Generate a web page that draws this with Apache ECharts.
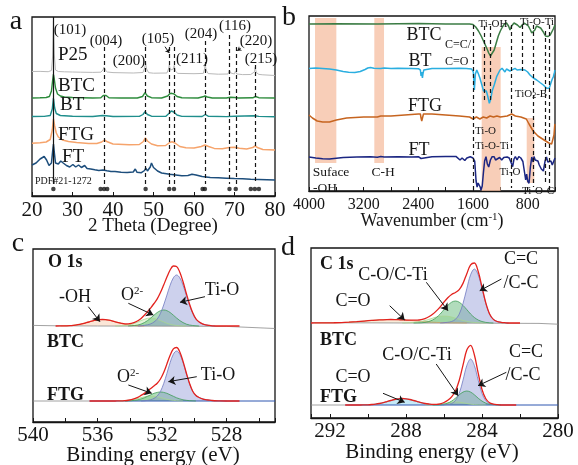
<!DOCTYPE html>
<html><head><meta charset="utf-8">
<script src="https://cdn.jsdelivr.net/npm/echarts@6/dist/echarts.min.js"></script>
<style>html,body{margin:0;padding:0;background:#fff}#c{width:578px;height:465px}</style>
</head><body><div id="c"></div>
<script>
// ---------------- Panel a : XRD (2θ in degree, offset intensity) ----------------
const xrdP25 = [[20,124.5],[22,124.6],[24,124.3],[24.8,125.5],[25.1,140],[25.3,175],[25.5,142],[25.8,126],[26.5,124.5],[28,124.2],[30,124],[32,123.8],[35,123.6],[37,123.8],[37.5,126],[37.8,129],[38.1,126],[38.6,124],[40,123.4],[45,123],[47.4,123.5],[47.8,128],[48.05,132.7],[48.3,127],[48.8,123.3],[50,122.8],[53.3,123],[53.7,127],[53.9,131],[54.2,126],[54.6,124],[54.9,127],[55.1,130.5],[55.4,125],[56,122.6],[60,122.3],[62.3,122.6],[62.6,127],[62.75,132],[63,126],[63.5,122.4],[66,121.8],[68.4,122],[68.7,126],[68.8,127.7],[69.1,123],[70,122],[70.2,124.5],[70.35,126],[70.6,122],[72,121.4],[74,121.5],[74.9,124],[75.1,128.7],[75.4,123.5],[76,121.6],[77,121.2],[80,120.5]];
const xrdBTC = [[20,98],[22,98.2],[23.5,98.5],[24.3,99.5],[24.8,105],[25.1,116],[25.3,122],[25.5,117],[25.8,108],[26.3,102],[27,100],[28,99],[30,98.5],[35,98],[37,98.3],[37.6,100.5],[37.9,101],[38.3,100.5],[39,98.3],[42,98],[46,98],[47.3,99.5],[47.9,103.3],[48.5,100],[49.5,98.3],[52,98],[53.5,100],[54,102.3],[54.5,102.7],[55.1,102],[55.8,99.5],[57,98.2],[61,98],[62.2,99.2],[62.7,100],[63.3,99],[64.5,98],[68,98],[69,98.8],[70,98.5],[71,98],[74.5,98.2],[75.2,99.5],[76,98.3],[80,98]];
const xrdBT = [[20,79.5],[23,79.6],[24.5,80.5],[25,87],[25.3,98],[25.6,88],[26,82.5],[27,80.5],[30,79.8],[35,79.5],[37.4,80.5],[37.8,81.5],[38.3,80.3],[40,79.5],[46.5,79.6],[47.4,81.5],[47.9,84.3],[48.5,81.5],[49.5,79.8],[53,79.6],[53.8,82.5],[54.4,85],[55,84],[55.8,81],[57,79.6],[62,79.5],[62.8,81.5],[63.5,79.8],[68,79.4],[70,79.8],[75,80.3],[76,79.6],[80,79.3]];
const xrdFTG = [[20,52.8],[22,53.2],[23.5,54],[24.5,56.5],[25,66],[25.3,77],[25.6,70],[26,63],[26.5,59],[27.5,56],[29,54.5],[31,53.5],[34,52.5],[36,52.5],[37.2,54],[37.9,56],[38.6,54.2],[40,52],[44,51.3],[46.5,51.5],[47.5,54.5],[48,58],[48.5,55],[49.5,52],[51,50.3],[53,50.5],[54,53.5],[54.6,54.3],[55.3,53],[56.5,49.5],[58,48.3],[60,48],[61.8,49.5],[62.7,51],[63.6,49.5],[65,47.6],[67,47.2],[68.7,48.4],[70,48.8],[71.2,47.8],[73,47],[74.5,48.5],[75.1,50],[75.8,48.2],[77,46.5],[80,46]];
const xrdFT = [[20,31],[21,33],[22,37],[23,39.5],[23.6,36],[24.2,30.5],[24.8,33],[25.1,45],[25.3,52],[25.5,44],[25.8,33],[26.5,32],[27.1,35],[27.7,33],[28.5,30.5],[29.3,29],[30.1,31.5],[30.8,29],[31.5,31],[32.2,28.5],[33,30.5],[33.6,27.5],[34.5,27],[35.5,26.2],[36.5,25.5],[37.5,26],[38.5,25.2],[39.5,24.5],[40.5,24.6],[42,23.8],[43.5,23.5],[45,24],[45.5,27],[45.9,23.8],[47,23.3],[47.8,25.5],[48.1,28],[48.5,25],[49.2,29],[49.5,33],[50,28.5],[51,25],[52,23],[54,21.8],[55.5,21],[57,20.2],[58.5,20.5],[59.5,21.8],[60.5,21],[62,19.5],[64,18.6],[66,18.2],[68,17.8],[70,17.4],[72,17.2],[74,16.8],[76,16.6],[78,16.3],[80,16]];
const pdfPeaks = [25.28,36.95,37.80,38.57,48.05,53.89,55.06,62.12,62.69,68.76,70.31,74.03,75.03,76.02];
const hklPeaks = [37.8,48.05,53.89,55.06,62.69,68.76,70.31,75.03];
const xrdTicks = [20,30,40,50,60,70,80];

// ---------------- Panel b : FTIR (wavenumber cm-1, offset transmittance) ----------------
const ftirBTC = [[4000,167],[3600,167.3],[3000,167],[2400,167.4],[2000,167],[1650,167],[1600,166.5],[1560,164],[1520,160],[1480,155],[1440,149],[1400,143],[1370,138],[1345,135],[1320,136],[1290,141],[1260,148],[1230,155],[1200,160],[1170,164],[1140,167],[1110,168],[1080,165],[1058,161],[1035,165],[1000,168],[985,168],[950,166],[912,163.5],[880,166],[850,168],[824,168],[790,165],[760,161],[740,158],[717,157.5],[695,161],[670,165],[644,166],[610,163],[571,159],[540,155],[522,154],[500,154.5],[470,156],[448,158],[425,162],[400,166]];
const ftirBT = [[4000,122.5],[3950,122.8],[3900,123],[3800,122.5],[3700,122],[3600,121],[3500,119.5],[3420,118.8],[3330,118.6],[3250,119.5],[3180,121.5],[3140,123],[3100,123.5],[3050,122.8],[2950,122.5],[2900,123],[2800,122.6],[2700,122.8],[2500,122.5],[2400,122.3],[2370,121],[2360,115],[2350,119],[2340,113],[2330,118],[2320,121],[2300,122.3],[2200,122.5],[2000,122.6],[1800,122.7],[1700,122.5],[1620,122],[1595,119],[1580,101],[1565,117],[1545,121],[1520,117],[1498,112.7],[1470,106],[1445,100],[1425,99.3],[1405,100],[1385,95],[1361,87.7],[1340,92],[1320,100],[1290,106],[1254,114.3],[1205,121],[1175,122.7],[1150,121],[1132,119],[1110,122],[1085,121.5],[1060,120],[1034,121.5],[985,122.7],[955,121],[930,119.5],[900,121.5],[873,122.7],[840,121],[800,119],[766,116],[717,113],[668,111],[620,108.5],[571,106],[522,102.7],[498,102],[483,103],[460,108],[440,112],[424,114.3],[410,118],[400,121]];
const ftirFTG = [[4000,76],[3950,73],[3880,70],[3800,69],[3700,69],[3600,71],[3450,73],[3200,74],[3000,74],[2950,75],[2800,75],[2600,76],[2400,77],[2370,77],[2360,73],[2350,70],[2340,72],[2325,77],[2200,77],[2000,76],[1800,75],[1650,74],[1600,72],[1550,74],[1500,72],[1450,74],[1400,73],[1350,75],[1300,74],[1250,75],[1200,74],[1100,75],[1034,77],[980,75],[900,74],[820,72],[780,67],[720,60],[650,55],[560,51],[490,48],[449,47],[430,49],[415,56],[405,65],[400,67]];
const ftirFT = [[4000,34],[3950,33.5],[3900,33],[3800,32.2],[3700,32],[3600,32.8],[3500,33.6],[3300,34],[3100,34.2],[3000,33.8],[2950,34.5],[2900,34],[2700,34.2],[2500,34],[2400,34.3],[2360,32.5],[2340,34],[2200,34.2],[2000,34.5],[1850,34.6],[1790,31],[1760,33],[1720,30.5],[1690,33],[1640,34.3],[1600,33],[1575,30],[1555,10],[1540,4],[1525,8],[1508,9],[1495,4],[1483,1],[1465,5],[1448,18],[1430,30],[1410,34.3],[1390,27],[1370,24],[1345,31],[1320,34.3],[1290,34.3],[1270,31],[1245,32],[1210,33.5],[1180,31],[1150,33.5],[1100,34],[1070,33],[1040,28],[1020,24.3],[1000,32],[980,34.5],[955,31],[930,34.5],[900,33],[870,29.5],[840,16],[829,11],[815,17],[800,10],[780,7.7],[760,24],[740,34],[720,29],[707,34.5],[690,31],[670,33],[650,30],[630,26],[600,22],[570,20],[545,30],[525,34],[505,29],[480,27],[460,30],[440,26],[420,28],[400,33]];
const ftirBands = [[3912,3600],[3044,2902],[1473,1195],[814,703]];
const ftirGuides = [1595,1440,1345,1034,873,717,546,483];

// ---------------- Panel c : O 1s XPS (binding energy eV, intensity above background) ----------------
const o1sBTC_OH = [[538.3,0],[538.1,0.1],[537.9,0.2],[537.7,0.4],[537.5,0.7],[537.3,1.1],[537.1,1.7],[536.9,2.4],[536.7,3.3],[536.5,4.2],[536.3,5.1],[536.1,5.8],[535.9,6.3],[535.7,6.5],[535.5,6.3],[535.3,5.8],[535.1,5.1],[534.9,4.2],[534.7,3.3],[534.5,2.4],[534.3,1.7],[534.1,1.1],[533.9,0.7],[533.7,0.4],[533.5,0.2],[533.3,0.1],[533.1,0]];
const o1sBTC_LG = [[534.9,0],[534.7,0.1],[534.5,0.2],[534.3,0.5],[534.1,1],[533.9,1.7],[533.7,2.7],[533.5,4],[533.3,5.4],[533.1,6.7],[532.9,7.7],[532.7,8],[532.5,7.7],[532.3,6.7],[532.1,5.4],[531.9,4],[531.7,2.7],[531.5,1.7],[531.3,1],[531.1,0.5],[530.9,0.2],[530.7,0.1],[530.5,0]];
const o1sBTC_O2 = [[534.1,0],[533.9,0.2],[533.7,0.5],[533.5,1],[533.3,1.9],[533.1,3.4],[532.9,5.4],[532.7,8],[532.5,10.8],[532.3,13.5],[532.1,15.3],[531.9,16],[531.7,15.3],[531.5,13.5],[531.3,10.8],[531.1,8],[530.9,5.4],[530.7,3.4],[530.5,1.9],[530.3,1],[530.1,0.5],[529.9,0.2],[529.7,0]];
const o1sBTC_TiO = [[533.5,0],[533.3,0.2],[533.1,0.6],[532.9,1.2],[532.7,2.2],[532.5,4],[532.3,6.9],[532.1,12.7],[531.9,21],[531.7,30.9],[531.5,40.8],[531.3,48.2],[531.1,51],[530.9,48.2],[530.7,40.8],[530.5,30.9],[530.3,21],[530.1,12.7],[529.9,6.9],[529.7,4],[529.5,2.2],[529.3,1.2],[529.1,0.6],[528.9,0.2],[528.7,0]];
const o1sBTC_env = [[538.6,0],[538.1,0.1],[537.9,0.2],[537.7,0.4],[537.5,0.7],[537.3,1.1],[537.1,1.7],[536.9,2.4],[536.7,3.3],[536.5,4.2],[536.3,5.1],[536.1,5.8],[535.9,6.3],[535.7,6.5],[535.5,6.3],[535.3,5.8],[535.1,5.1],[534.9,4.2],[534.7,3.4],[534.5,2.6],[534.3,2.2],[534.1,2.2],[533.9,2.6],[533.7,3.6],[533.5,5.2],[533.3,7.6],[533.1,10.7],[532.9,14.3],[532.7,18.2],[532.5,22.5],[532.3,27.1],[532.1,33.4],[531.9,41],[531.7,48.9],[531.5,56],[531.3,60],[531.1,59.5],[530.9,53.8],[530.7,44.3],[530.5,32.8],[530.3,22],[530.1,13.2],[529.9,7.1],[529.7,4],[529.5,2.2],[529.3,1.2],[529.1,0.6],[528.9,0.2],[528.4,0],[527.2,0]];
const o1sBTC_raw = [[540,0.6],[538.5,0.2],[536,0],[528,-0.4],[525,-2.5]];
const o1sFTG_LG = [[534.7,0],[534.5,0.1],[534.3,0.3],[534.1,0.6],[533.9,1.1],[533.7,1.7],[533.5,2.5],[533.3,3.4],[533.1,4.2],[532.9,4.8],[532.7,5],[532.5,4.8],[532.3,4.2],[532.1,3.4],[531.9,2.5],[531.7,1.7],[531.5,1.1],[531.3,0.6],[531.1,0.3],[530.9,0.1],[530.7,0]];
const o1sFTG_O2 = [[534.3,0],[534.1,0.15],[533.9,0.3],[533.7,0.7],[533.5,1.2],[533.3,2.1],[533.1,3.2],[532.9,4.7],[532.7,6.2],[532.5,7.7],[532.3,8.6],[532.1,9],[531.9,8.6],[531.7,7.7],[531.5,6.2],[531.3,4.7],[531.1,3.2],[530.9,2.1],[530.7,1.2],[530.5,0.7],[530.3,0.3],[530.1,0.15],[529.9,0]];
const o1sFTG_TiO = [[533.3,0],[533.1,0.2],[532.9,0.6],[532.7,1.3],[532.5,2.6],[532.3,5],[532.1,9.6],[531.9,17.4],[531.7,27.6],[531.5,38.4],[531.3,46.8],[531.1,50],[530.9,46.8],[530.7,38.4],[530.5,27.6],[530.3,17.4],[530.1,9.6],[529.9,5.5],[529.7,3.5],[529.5,2.2],[529.3,1.4],[529.1,0.9],[528.9,0.5],[528.5,0.2],[528,0]];
const o1sFTG_env = [[536.5,0],[534.9,0],[534.7,0.1],[534.5,0.1],[534.3,0.35],[534.1,0.75],[533.9,1.4],[533.7,2.4],[533.5,3.7],[533.3,5.6],[533.1,7.6],[532.9,10.1],[532.7,12.5],[532.5,15.1],[532.3,17.8],[532.1,22],[531.9,28.5],[531.7,37],[531.5,45.7],[531.3,52.1],[531.1,53.5],[530.9,49],[530.7,39.6],[530.5,28.3],[530.3,17.7],[530.1,9.75],[529.9,5.5],[529.7,3.5],[529.5,2.2],[529.3,1.4],[529.1,0.9],[528.9,0.5],[528.5,0.2],[528,0],[527.2,0]];
const o1sFTG_raw = [[540,0],[536.5,0]];
const o1sFTG_bg = [[536.5,0],[525,0]];

// ---------------- Panel d : C 1s XPS ----------------
const c1sBTC_CO = [[292.8,0],[292.4,0.1],[292,0.2],[291.6,0.3],[291.2,0.6],[290.8,1.1],[290.4,1.6],[290,2.3],[289.6,2.9],[289.2,3.3],[288.8,3.5],[288.4,3.3],[288,2.9],[287.6,2.3],[287.2,1.6],[286.8,1.1],[286.4,0.6],[286,0.3],[285.6,0.2],[285.2,0.1],[284.8,0]];
const c1sBTC_LG = [[288.2,0],[288,0.1],[287.8,0.3],[287.6,0.5],[287.4,0.9],[287.2,1.6],[287,2.5],[286.8,3.6],[286.6,4.8],[286.4,6],[286.2,6.7],[286,7],[285.8,6.7],[285.6,6],[285.4,4.8],[285.2,3.6],[285,2.5],[284.8,1.6],[284.6,0.9],[284.4,0.5],[284.2,0.3],[284,0.1],[283.8,0]];
const c1sBTC_COTi = [[287.6,0],[287.2,0.2],[287,0.6],[286.8,1.5],[286.6,3],[286.4,5.5],[286.2,9],[286,13.4],[285.8,17.6],[285.6,20.8],[285.4,22],[285.2,20.8],[285,17.6],[284.8,13.4],[284.6,9],[284.4,5.5],[284.2,3],[284,1.5],[283.8,0.6],[283.6,0.2],[283.4,0]];
const c1sBTC_CC = [[286.2,0],[286,0.3],[285.8,0.7],[285.6,1.5],[285.4,3.6],[285.2,8.8],[285,19.5],[284.8,34.3],[284.6,48.2],[284.4,54],[284.2,48.2],[284,34.3],[283.8,19.5],[283.6,8.8],[283.4,3.6],[283.2,1.5],[283,0.7],[282.8,0.3],[282.6,0]];
const c1sBTC_env = [[293,0],[292.6,0.05],[292.2,0.1],[291.8,0.25],[291.4,0.47],[291,0.84],[290.6,1.34],[290.2,1.96],[289.8,2.6],[289.4,3.15],[289,3.46],[288.8,3.5],[288.6,3.46],[288.4,3.3],[288.2,3.15],[288,3],[287.8,2.9],[287.6,2.8],[287.4,2.86],[287.2,3.4],[287,4.44],[286.8,6.2],[286.6,8.64],[286.4,12.1],[286.2,16.2],[286,21],[285.8,25.25],[285.6,28.5],[285.4,30.5],[285.2,33.3],[285,39.65],[284.8,49.3],[284.6,58.1],[284.4,60],[284.2,51.5],[284,35.9],[283.8,20.1],[283.6,9],[283.4,3.6],[283.2,1.5],[283,0.7],[282.8,0.3],[282.6,0],[282,0]];
const c1sBTC_raw = [[293,0.3],[288,0],[281,-0.4],[280,-1.2]];
const c1sFTG_CO = [[290.4,0],[290.2,0.1],[290,0.2],[289.8,0.5],[289.6,0.9],[289.4,1.5],[289.2,2.3],[289,3.4],[288.8,4.5],[288.6,5.5],[288.4,6.2],[288.2,6.5],[288,6.2],[287.8,5.5],[287.6,4.5],[287.4,3.4],[287.2,2.3],[287,1.5],[286.8,0.9],[286.6,0.5],[286.4,0.2],[286.2,0.1],[286,0]];
const c1sFTG_LG = [[287,0],[286.8,0.1],[286.6,0.2],[286.4,0.4],[286.2,0.8],[286,1.5],[285.8,2.2],[285.6,2.8],[285.4,3],[285.2,2.8],[285,2.2],[284.8,1.5],[284.6,0.8],[284.4,0.4],[284.2,0.2],[284,0.1],[283.8,0]];
const c1sFTG_COTi = [[286.6,0],[286.4,0.1],[286.2,0.3],[286,0.8],[285.8,1.9],[285.6,3.9],[285.4,6.8],[285.2,10.2],[285,12.9],[284.8,14],[284.6,12.9],[284.4,10.2],[284.2,6.8],[284,3.9],[283.8,1.9],[283.6,0.8],[283.4,0.3],[283.2,0.1],[283,0]];
const c1sFTG_CC = [[286.2,0],[286,0.2],[285.8,0.6],[285.6,1.4],[285.4,4.3],[285.2,11.5],[285,24.8],[284.8,39.4],[284.6,46],[284.4,39.4],[284.2,24.8],[284,11.5],[283.8,4.3],[283.6,1.4],[283.4,0.6],[283.2,0.2],[283,0]];
const c1sFTG_env = [[291.2,0],[290.4,0],[290.2,0.1],[290,0.2],[289.8,0.5],[289.6,0.9],[289.4,1.5],[289.2,2.3],[289,3.4],[288.8,4.5],[288.6,5.5],[288.4,6.2],[288.2,6.5],[288,6.2],[287.8,5.5],[287.6,4.5],[287.4,3.4],[287.2,2.3],[287,1.5],[286.8,1],[286.6,0.7],[286.4,0.7],[286.2,1.2],[286,2.5],[285.8,4.7],[285.6,8.1],[285.4,14.1],[285.2,24.5],[285,39.9],[284.8,54.9],[284.6,59.7],[284.4,50],[284.2,31.8],[284,15.5],[283.8,6.2],[283.6,2.2],[283.4,0.9],[283.2,0.3],[283,0],[282.2,0]];
const c1sFTG_raw = [[293,0],[291.2,0]];
const c1sFTG_bg = [[291.2,0],[280,0]];

// ---------------- rendering ----------------
const FF = "'Liberation Serif','Times New Roman',serif";
const INK = '#151515';
const chart = echarts.init(document.getElementById('c'), null, {renderer: 'canvas'});

function ln(data, xi, yi, color, width, extra) {
  return Object.assign({type: 'line', xAxisIndex: xi, yAxisIndex: yi, data: data, symbol: 'none',
    showSymbol: false, silent: true, animation: false, smooth: false,
    lineStyle: {color: color, width: width}}, extra || {});
}
function comp(data, xi, yi, edge, fill) {
  return ln(data, xi, yi, edge, 0.8, {smooth: 0.35, areaStyle: {color: fill, origin: 'auto'}});
}
function vGuides(xs, tops, bottoms, dashed) {
  return {silent: true, symbol: ['none', 'none'], label: {show: false}, animation: false,
    lineStyle: {type: dashed ? [4, 3] : 'solid', color: INK, width: 1.2},
    data: xs.map((x, i) => [{coord: [x, tops[i]]}, {coord: [x, bottoms[i]]}])};
}
function arrows(list, size) {
  return {silent: true, symbol: ['none', 'arrow'], symbolSize: size || 7, label: {show: false}, animation: false,
    lineStyle: {type: 'solid', color: INK, width: 1},
    data: list.map(a => [{coord: [a[0], a[1]]}, {coord: [a[2], a[3]]}])};
}
function xAx(grid, o) {
  return Object.assign({gridIndex: grid, type: 'value', position: 'bottom',
    axisLine: {show: true, onZero: false, lineStyle: {color: INK, width: 1.3}},
    axisTick: {show: true, inside: true, length: 4, lineStyle: {color: INK, width: 1}},
    splitLine: {show: false}, minorTick: {show: false}}, o);
}

// guide extents (layout)
const hklTop = [149,149,149,149,155,161,149,131];
const hklBottom = hklPeaks.map(() => 12);
const ftirTop = [166,165,165,166,166,166,160,166];
const ftirBottom = [0,90,90,3,118,4,8,0];

const series = [
  // ---- a ----
  ln(xrdP25, 0, 0, '#b9b9b9', 1),
  ln(xrdBTC, 0, 0, '#2c8b3b', 1.4),
  ln(xrdBT, 0, 0, '#1f8e8c', 1.4),
  ln(xrdFTG, 0, 0, '#f6a46c', 1.5),
  ln(xrdFT, 0, 0, '#1d4e7c', 1.5, {
    markLine: vGuides(hklPeaks, hklTop, hklBottom, true)
  }),
  ln([], 0, 0, INK, 1, {markLine: Object.assign(vGuides([25.3], [179], [12], false), {})}),
  ln([], 0, 0, INK, 1, {markLine: arrows([[52.84,149.3,53.9,143],[71.53,147.7,70.69,145.3]], 4)}),
  {type: 'scatter', xAxisIndex: 0, yAxisIndex: 0, silent: true, animation: false, symbol: 'circle', symbolSize: 4.5,
    itemStyle: {color: INK}, data: pdfPeaks.map(p => [p, 7])},
  // ---- b ----
  ln([], 1, 1, INK, 1, {z: 1, markArea: {silent: true, itemStyle: {color: 'rgba(246,190,160,0.75)'},
    data: ftirBands.map((b, i) => [{coord: [b[0], i < 2 ? 173 : (i === 2 ? 144 : 73)]}, {coord: [b[1], i < 2 ? 28 : (i === 2 ? 0 : 8)]}])}}),
  ln(ftirBTC, 1, 1, '#3b7c44', 1.5, {z: 3}),
  ln(ftirBT, 1, 1, '#2aaee0', 1.5, {z: 3}),
  ln(ftirFTG, 1, 1, '#c6641f', 1.5, {z: 3}),
  ln(ftirFT, 1, 1, '#1b2682', 1.5, {z: 3, markLine: vGuides(ftirGuides, ftirTop, ftirBottom, true)}),
  // ---- c ----
  ln(o1sBTC_raw, 2, 2, '#8a8a8a', 0.8),
  comp(o1sBTC_OH, 2, 2, '#d98a56', 'rgba(246,196,160,0.6)'),
  comp(o1sBTC_LG, 2, 2, '#a8d690', 'rgba(186,228,166,0.6)'),
  comp(o1sBTC_O2, 2, 2, '#3f9d57', 'rgba(70,172,95,0.6)'),
  comp(o1sBTC_TiO, 2, 2, '#7079c0', 'rgba(136,146,212,0.6)'),
  ln(o1sBTC_env, 2, 2, '#e3221e', 1.3, {smooth: 0.35,
    markLine: arrows([[536.57,19.3,535.85,4.3],[534.09,22.7,532.54,11],[529.34,29.3,530.89,23.7],[534.09,-59,532.64,-67.3],[529.85,-50.7,531.61,-55.7]], 7)}),
  ln(o1sFTG_raw, 2, 3, '#8a8a8a', 0.8),
  ln(o1sFTG_bg, 2, 3, '#2f56b0', 1),
  comp(o1sFTG_LG, 2, 3, '#a8d690', 'rgba(186,228,166,0.6)'),
  comp(o1sFTG_O2, 2, 3, '#3f9d57', 'rgba(70,172,95,0.6)'),
  comp(o1sFTG_TiO, 2, 3, '#7079c0', 'rgba(136,146,212,0.6)'),
  ln(o1sFTG_env, 2, 3, '#e3221e', 1.3, {smooth: 0.35}),
  // ---- d ----
  ln(c1sBTC_raw, 4, 4, '#8a8a8a', 0.8),
  comp(c1sBTC_CO, 4, 4, '#c9a266', 'rgba(238,205,160,0.55)'),
  comp(c1sBTC_LG, 4, 4, '#a8d690', 'rgba(186,228,166,0.6)'),
  comp(c1sBTC_COTi, 4, 4, '#3f9d57', 'rgba(70,172,95,0.6)'),
  comp(c1sBTC_CC, 4, 4, '#7079c0', 'rgba(136,146,212,0.6)'),
  ln(c1sBTC_env, 4, 4, '#e3221e', 1.3, {smooth: 0.35,
    markLine: arrows([[286.93,40.7,285.79,12.3],[288.86,17.3,288.07,3],[282.98,44,284.12,32.3],[286.41,-41,285.26,-72.7],[289.21,-70.3,288.07,-79.3],[282.72,-49.3,284.21,-62.7]], 7)}),
  ln(c1sFTG_raw, 4, 5, '#8a8a8a', 0.8),
  ln(c1sFTG_bg, 4, 5, '#2f56b0', 1),
  comp(c1sFTG_CO, 4, 5, '#48afd8', 'rgba(120,205,235,0.6)'),
  comp(c1sFTG_LG, 4, 5, '#a8d690', 'rgba(186,228,166,0.6)'),
  comp(c1sFTG_COTi, 4, 5, '#3f9d57', 'rgba(70,172,95,0.6)'),
  comp(c1sFTG_CC, 4, 5, '#7079c0', 'rgba(136,146,212,0.6)'),
  ln(c1sFTG_env, 4, 5, '#e3221e', 1.3, {smooth: 0.35})
];

function T(text, x, y, size, o) {
  o = o || {};
  return {type: 'text', x: x, y: y, z: 100, silent: true,
    style: Object.assign({text: text, fontSize: size, fontFamily: FF, fill: INK,
      fontWeight: o.bold ? 'bold' : 'normal', align: o.left ? 'left' : 'center', verticalAlign: 'middle'}, o.style || {})};
}
const sup = (fs) => ({rich: {s: {fontSize: fs, fontFamily: FF, verticalAlign: 'top', fill: INK}}});
const sub = (fs) => ({rich: {b: {fontSize: fs, fontFamily: FF, verticalAlign: 'bottom', fill: INK}}});

const graphic = [
  T('a', 16, 22, 28), T('b', 289, 18, 28), T('c', 18, 244, 28), T('d', 288, 248, 28),
  T('(101)', 70, 30, 15), T('(004)', 106, 41, 15), T('(200)', 129, 61, 15), T('(105)', 158, 39, 15),
  T('(211)', 192, 59, 15), T('(204)', 201, 34, 15), T('(116)', 235, 26, 15), T('(220)', 256, 41, 15),
  T('(215)', 261, 59, 15),
  T('P25', 58, 55, 19, {left: 1}), T('BTC', 58, 86, 19, {left: 1}), T('BT', 60, 105, 19, {left: 1}),
  T('FTG', 58, 135, 19, {left: 1}), T('FT', 62, 157, 19, {left: 1}), T('PDF#21-1272', 35, 181, 10, {left: 1}),
  T('2 Theta (Degree)', 153, 226, 19),
  T('BTC', 424, 35, 18), T('BT', 420, 61, 18), T('FTG', 425, 106, 18), T('FT', 419, 150, 18),
  T('C=C/', 445, 45, 12, {left: 1}), T('C=O', 445, 62, 12, {left: 1}),
  T('Ti-OH', 493, 24, 11), T('Ti-O-Ti', 537, 22, 11),
  T('TiO{b|2}-B', 531, 94, 11, {style: sub(8)}),
  T('Ti-O', 475, 131, 11, {left: 1}), T('Ti-O-Ti', 475, 146, 11, {left: 1}),
  T('Ti-O', 510, 172, 11), T('Ti-O-C', 538, 191, 11),
  T('Suface', 331, 172, 13.5), T('-OH', 313, 188, 13.5, {left: 1}), T('C-H', 383, 172, 13.5),
  T('Wavenumber (cm{s|-1})', 432, 221, 18, {style: sup(11)}),
  T('O 1s', 48, 262, 18, {left: 1, bold: 1}), T('-OH', 75, 297, 18), T('O{s|2-}', 132, 295, 18, {style: sup(11)}),
  T('Ti-O', 222, 290, 18), T('BTC', 47, 342, 18, {left: 1, bold: 1}),
  T('O{s|2-}', 128, 377, 18, {style: sup(11)}), T('Ti-O', 218, 375, 18), T('FTG', 47, 395, 18, {left: 1, bold: 1}),
  T('Binding energy (eV)', 153, 455, 21),
  T('C 1s', 320, 264, 18, {left: 1, bold: 1}), T('C-O/C-Ti', 393, 275, 18), T('C=O', 353, 301, 18),
  T('C=C', 521, 259, 18), T('/C-C', 521, 283, 18), T('BTC', 320, 340, 18, {left: 1, bold: 1}),
  T('C-O/C-Ti', 417, 355, 18), T('C=O', 353, 377, 18), T('C=C', 526, 352, 18), T('/C-C', 523, 375, 18),
  T('FTG', 320, 397, 18, {left: 1, bold: 1}),
  T('Binding energy (eV)', 432, 452, 21)
];

const gridStyle = {show: true, borderColor: INK, borderWidth: 1.3, backgroundColor: 'transparent', containLabel: false};
chart.setOption({
  animation: false,
  backgroundColor: '#ffffff',
  grid: [
    Object.assign({left: 32, top: 17, width: 243, height: 179}, gridStyle),
    Object.assign({left: 309, top: 16, width: 246, height: 175}, gridStyle),
    Object.assign({left: 33, top: 249, width: 242, height: 173}, gridStyle),
    Object.assign({left: 311, top: 248, width: 247, height: 170}, gridStyle)
  ],
  xAxis: [
    xAx(0, {min: xrdTicks[0], max: xrdTicks[xrdTicks.length - 1], interval: 10,
      axisLabel: {fontSize: 21, fontFamily: FF, color: INK, margin: 4}}),
    xAx(1, {min: 400, max: 4000, interval: 400, inverse: true,
      axisLabel: {fontSize: 16, fontFamily: FF, color: INK, margin: 6, formatter: v => (v % 800 === 0 ? String(v) : '')}}),
    xAx(2, {min: 525, max: 540, inverse: true, show: false}),
    xAx(2, {min: -540, max: -525, interval: 2,
      axisLabel: {fontSize: 21, fontFamily: FF, color: INK, margin: 3, formatter: v => (Math.round(v) % 4 === 0 ? String(-Math.round(v)) : '')}}),
    xAx(3, {min: 280, max: 293, interval: 2, inverse: true,
      axisLabel: {fontSize: 21, fontFamily: FF, color: INK, margin: 3, formatter: v => (v % 4 === 0 && v <= 292 ? String(v) : '')}})
  ],
  yAxis: [
    {gridIndex: 0, type: 'value', min: 0, max: 179, show: false},
    {gridIndex: 1, type: 'value', min: 0, max: 175, show: false},
    {gridIndex: 2, type: 'value', min: -96, max: 77, show: false},
    {gridIndex: 2, type: 'value', min: -21, max: 152, show: false},
    {gridIndex: 3, type: 'value', min: -95, max: 75, show: false},
    {gridIndex: 3, type: 'value', min: -13, max: 157, show: false}
  ],
  series: series,
  graphic: graphic
});
</script></body></html>
